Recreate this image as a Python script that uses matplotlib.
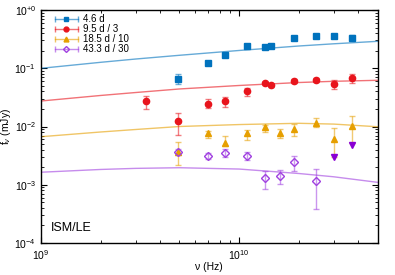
import matplotlib.pyplot as plt
import matplotlib.ticker as ticker
import numpy as np
from matplotlib.legend_handler import HandlerLine2D, HandlerTuple
from matplotlib.lines import Line2D

plt.rcParams["font.family"] = ["Liberation Sans", "DejaVu Sans"]
plt.rcParams["mathtext.fontset"] = "custom"
plt.rcParams["mathtext.rm"] = "Liberation Sans"
plt.rcParams["mathtext.it"] = "Liberation Sans:italic"

# observed flux densities (mJy), frequencies in Hz
freq_a = [4.9e9, 7.0e9, 8.5e9, 1.1e10, 1.35e10, 1.45e10, 1.9e10, 2.45e10, 3.0e10, 3.7e10]
flux_a = [0.066, 0.122, 0.169, 0.244, 0.229, 0.244, 0.327, 0.362, 0.353, 0.335]
lo_a = [0.054, 0.115, 0.160, 0.232, 0.218, 0.232, 0.312, 0.345, 0.336, 0.306]
hi_a = [0.080, 0.129, 0.178, 0.256, 0.240, 0.256, 0.342, 0.379, 0.370, 0.372]

freq_b = [3.4e9, 4.9e9, 7.0e9, 8.5e9, 1.1e10, 1.35e10, 1.45e10, 1.9e10, 2.45e10, 3.0e10, 3.7e10]
flux_b = [0.0274, 0.0124, 0.0246, 0.0274, 0.0402, 0.0558, 0.0509, 0.0604, 0.0629, 0.053, 0.0672]
lo_b = [0.0199, 0.0072, 0.0205, 0.0219, 0.0338, 0.0525, 0.0478, 0.0555, 0.0578, 0.0436, 0.0552]
hi_b = [0.0339, 0.0172, 0.0293, 0.0325, 0.0458, 0.0591, 0.0540, 0.0653, 0.0680, 0.0621, 0.0796]

freq_c = [4.9e9, 7.0e9, 8.5e9, 1.1e10, 1.35e10, 1.6e10, 1.9e10, 2.45e10, 3.0e10, 3.7e10]
flux_c = [0.0036, 0.0076, 0.0053, 0.0076, 0.0097, 0.0076, 0.0091, 0.0117, 0.0061, 0.0103]
lo_c = [0.00222, 0.0063, 0.0046, 0.0058, 0.0080, 0.0063, 0.0069, 0.0098, 0.0030, 0.0052]
hi_c = [0.00535, 0.0085, 0.0069, 0.0088, 0.0107, 0.0089, 0.0109, 0.0139, 0.0093, 0.0152]

freq_d = [4.9e9, 7.0e9, 8.5e9, 1.1e10, 1.35e10, 1.6e10, 1.9e10, 2.45e10]
flux_d = [0.00372, 0.00316, 0.00355, 0.00316, 0.00132, 0.00144, 0.00243, 0.00115]
lo_d = [0.00325, 0.00273, 0.0030, 0.0027, 0.00083, 0.00103, 0.00174, 0.00039]
hi_d = [0.00412, 0.00355, 0.00405, 0.0036, 0.00173, 0.00178, 0.00314, 0.00189]
freq_d_lim = [3.0e10, 3.7e10]
flux_d_lim = [0.0030, 0.0049]

# model curves
model_freq = [1e9, 2e9, 3e9, 5e9, 1e10, 2e10, 3e10, 5e10]
model_a = [0.0998, 0.1265, 0.144, 0.167, 0.202, 0.241, 0.263, 0.290]
model_b = [0.0274, 0.0341, 0.0383, 0.0441, 0.0506, 0.0569, 0.0597, 0.0621]
model_c = [0.00668, 0.00805, 0.00888, 0.0100, 0.0108, 0.01135, 0.0110, 0.0099]
model_d = [0.00164, 0.00183, 0.00191, 0.00196, 0.00186, 0.00156, 0.00137, 0.00110]

labels = ["4.6 d", "9.5 d / 3", "18.5 d / 10", "43.3 d / 30"]
colors = ["#0072bd", "#e8141c", "#e69f00", "#a040e0"]
markers = ["s", "o", "^", "D"]

fig = plt.figure(figsize=(3.95, 2.75), dpi=100)
ax = fig.add_axes([0.1038, 0.1164, 0.8522, 0.8472])

series = [
    (freq_a, flux_a, lo_a, hi_a, model_a),
    (freq_b, flux_b, lo_b, hi_b, model_b),
    (freq_c, flux_c, lo_c, hi_c, model_c),
    (freq_d, flux_d, lo_d, hi_d, model_d),
]

handles = []
handler_map = {}
for i, (f, y, lo, hi, model) in enumerate(series):
    c = colors[i]
    y = np.array(y)
    yerr = [y - np.array(lo), np.array(hi) - y]
    ax.plot(model_freq, model, color=c, lw=1.0, alpha=0.6, zorder=2)
    ax.errorbar(f, y, yerr=yerr, fmt="none", ecolor=c, elinewidth=1.0, capsize=2,
                capthick=1.0, alpha=0.55, zorder=3)
    if markers[i] == "D":
        ax.plot(f, y, ls="none", marker="D", ms=3.8, mfc="none", mec=c, mew=1.0, zorder=4)
    else:
        ax.plot(f, y, ls="none", marker=markers[i], ms=4.5, color=c, zorder=4)

    bar = Line2D([], [], color=c, lw=1.0, alpha=0.6, marker="|", ms=4, mew=1.0)
    if markers[i] == "D":
        mk = Line2D([], [], ls="none", marker="D", ms=3, mfc="none", mec=c, mew=1.0)
    else:
        mk = Line2D([], [], ls="none", marker=markers[i], ms=3.5, color=c)
    handler_map[bar] = HandlerLine2D(numpoints=2)
    handler_map[mk] = HandlerLine2D(numpoints=1)
    handles.append((bar, mk))

ax.plot(freq_d_lim, flux_d_lim, ls="none", marker="v", ms=4.5, color="#8a00d4", zorder=4)

handler_map[tuple] = HandlerTuple(ndivide=1, pad=0)
ax.legend(handles, labels, handler_map=handler_map, loc="upper left", frameon=False,
          fontsize=7, handlelength=2.9, handletextpad=0.3, labelspacing=0.0,
          borderaxespad=0.0, borderpad=0.3, bbox_to_anchor=(0.025, 0.995))

ax.set_xscale("log")
ax.set_yscale("log")
ax.set_xlim(1e9, 5e10)
ax.set_ylim(1e-4, 1)

ax.xaxis.set_major_locator(ticker.LogLocator(base=10, numticks=10))
ax.xaxis.set_minor_locator(ticker.LogLocator(base=10, subs=np.arange(2, 10), numticks=10))
ax.yaxis.set_minor_locator(ticker.LogLocator(base=10, subs=np.arange(2, 10), numticks=10))
ax.xaxis.set_minor_formatter(ticker.NullFormatter())
ax.yaxis.set_minor_formatter(ticker.NullFormatter())


def exp_fmt(v, pos):
    e = int(round(np.log10(v)))
    s = "+0" if e == 0 else str(e).replace("-", "\u2212")
    return "10$^{" + s + "}$"


ax.xaxis.set_major_formatter(ticker.FuncFormatter(exp_fmt))
ax.yaxis.set_major_formatter(ticker.FuncFormatter(exp_fmt))

ax.tick_params(which="both", direction="in", top=True, right=True, labelsize=7.5)
ax.tick_params(which="major", length=4, width=0.8)
ax.tick_params(which="minor", length=2, width=0.6)
for sp in ax.spines.values():
    sp.set_linewidth(1.0)

ax.set_xlabel("\u03bd (Hz)", fontsize=7.5, labelpad=0.5)
ax.set_ylabel("f$_{\u03bd}$ (mJy)", fontsize=7.5, labelpad=1)

ax.text(0.03, 0.04, "ISM/LE", transform=ax.transAxes, fontsize=9, ha="left", va="bottom")

plt.savefig("out.png", dpi=100)
plt.close()
